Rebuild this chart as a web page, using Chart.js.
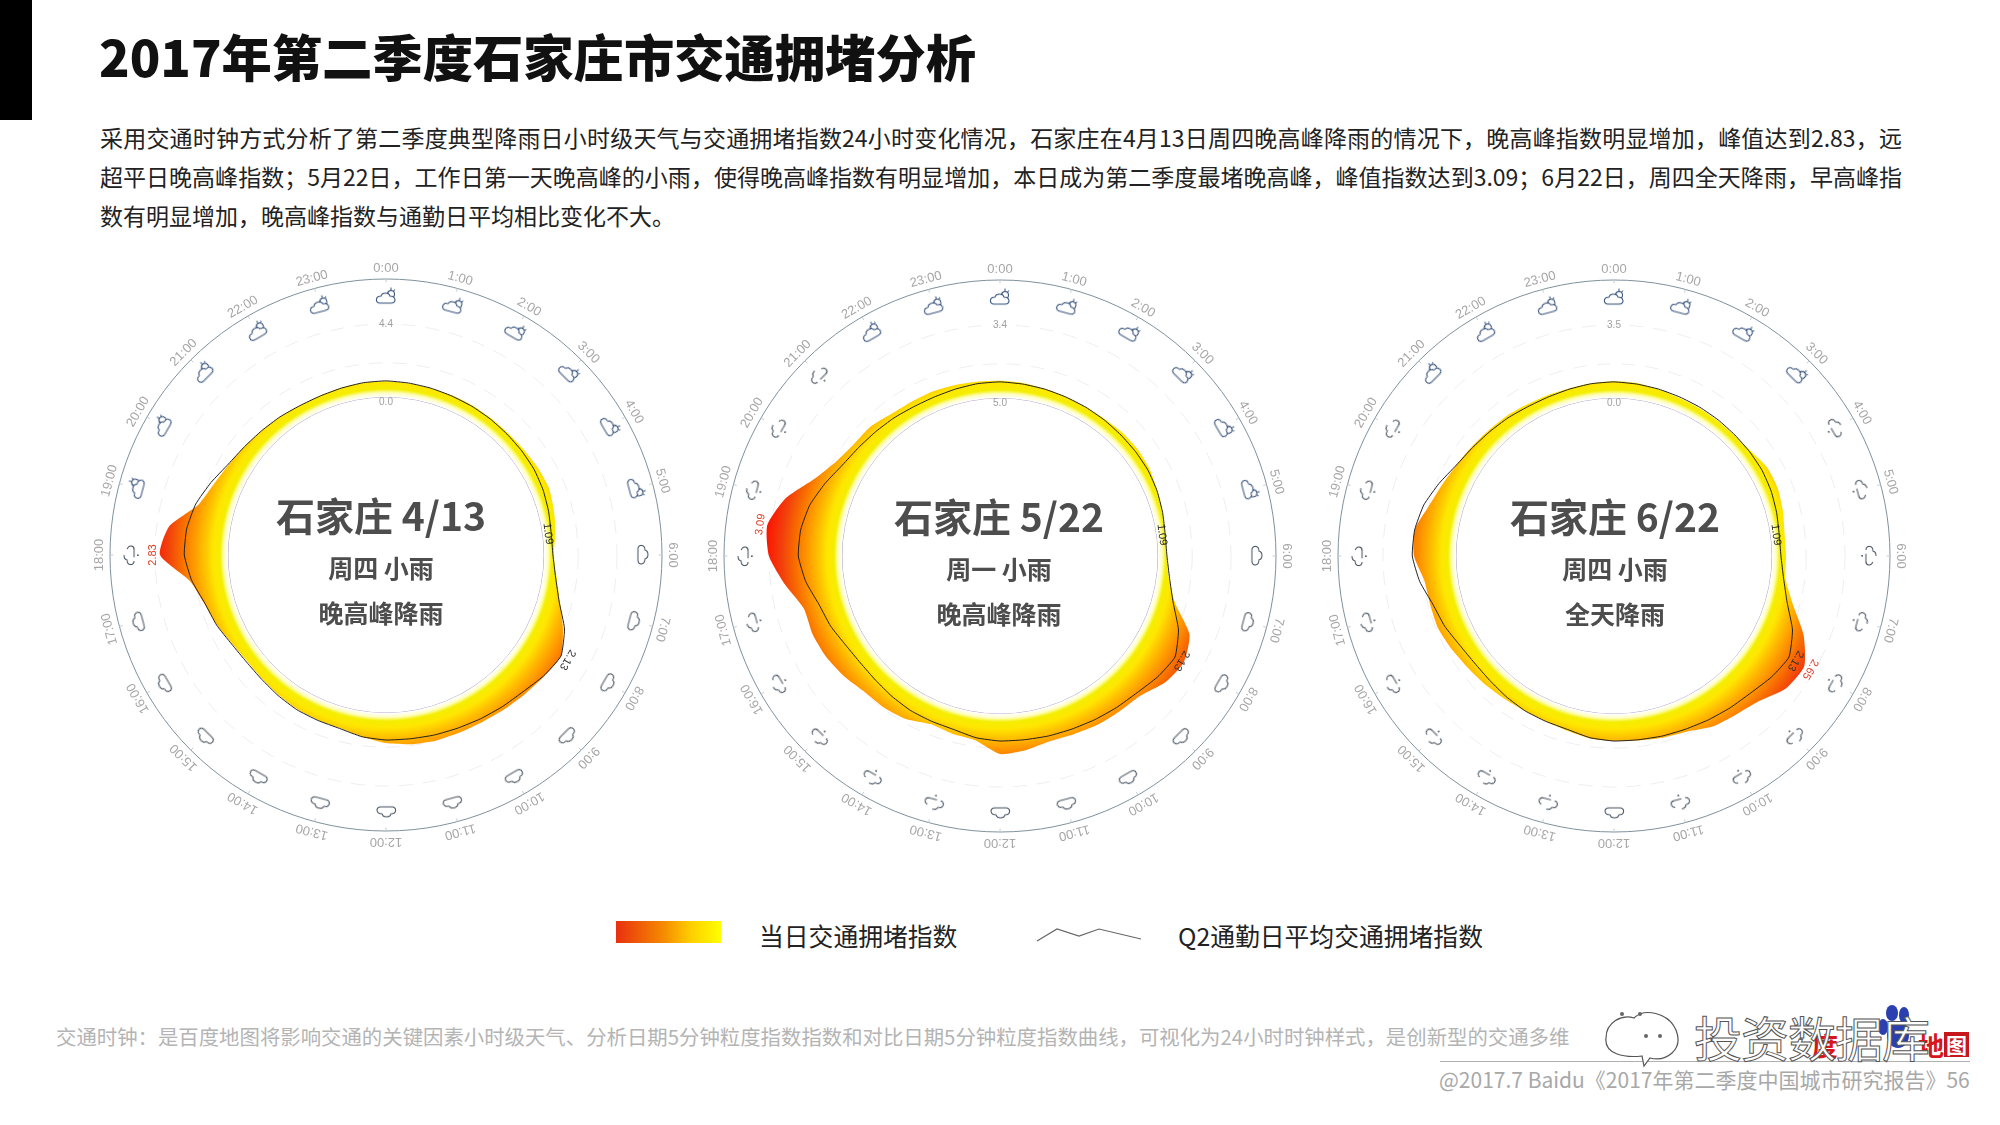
<!DOCTYPE html>
<html lang="zh">
<head>
<meta charset="utf-8">
<title>2017年第二季度石家庄市交通拥堵分析</title>
<script src="https://cdn.jsdelivr.net/npm/chart.js@4"></script>
<style>
    html, body { margin: 0; padding: 0; background: #fff; }
    body { position: relative; width: 2000px; height: 1125px; overflow: hidden; font-family: "Noto Sans CJK SC", "Noto Sans", sans-serif; color: #1a1a1a; }
    .abs { position: absolute; white-space: nowrap; }
    #bar { left: 0; top: 0; width: 32px; height: 120px; background: #000; }
    #title { left: 99px; top: 18px; font-size: 50.3px; line-height: 74px; font-weight: 900; color: #111; }
    .para { left: 100px; width: 1802px; font-size: 23px; line-height: 39px; color: #222; white-space: normal; text-align: justify; text-align-last: justify; }
    canvas { position: absolute; }
    .hub { position: absolute; width: 320px; text-align: center; color: #4d4d4d; font-weight: 700; }
    .hub div { position: absolute; left: 0; width: 100%; }
    .hub .name { top: -35px; font-size: 39px; line-height: 68px; }
    .hub .day { top: 32px; font-size: 25px; line-height: 40px; }
    .hub .rain { top: 77px; font-size: 25px; line-height: 40px; }
    #legendRamp { left: 616px; top: 921px; width: 105px; height: 22px; background: linear-gradient(to right, #e8300f, #f58a00 45%, #ffd000 72%, #ffff00); }
    .legendText { top: 917px; font-size: 24.8px; line-height: 36px; color: #222; }
    #note { left: 56px; top: 1022px; font-size: 20.4px; line-height: 28px; color: #b4b4b4; }
    #rule { left: 1440px; top: 1061px; width: 530px; height: 1px; background: #b0b0b0; }
    #copy { left: 1439px; top: 1064px; font-size: 21px; line-height: 30px; color: #a8a8a8; }
    #logoBox { left: 1944px; top: 1032px; width: 25px; height: 25px; background: #c8161d; color: #fff; font-size: 21px; line-height: 25px; text-align: center; font-weight: 700; }
    .logoRed { top: 1030px; font-size: 26px; line-height: 30px; font-weight: 700; color: #d8141c; }
    #stamp { left: 1694px; top: 1006px; font-size: 48px; line-height: 60px; color: #fff; -webkit-text-stroke: 1px #555; letter-spacing: -1px; }
</style>
</head>
<body>
<div class="abs" id="bar"></div>
<div class="abs" id="title">2017年第二季度石家庄市交通拥堵分析</div>
<div class="abs para" style="top:118px">采用交通时钟方式分析了第二季度典型降雨日小时级天气与交通拥堵指数24小时变化情况，石家庄在4月13日周四晚高峰降雨的情况下，晚高峰指数明显增加，峰值达到2.83，远</div>
<div class="abs para" style="top:157px">超平日晚高峰指数；5月22日，工作日第一天晚高峰的小雨，使得晚高峰指数有明显增加，本日成为第二季度最堵晚高峰，峰值指数达到3.09；6月22日，周四全天降雨，早高峰指</div>
<div class="abs para" style="top:196px;text-align-last:left">数有明显增加，晚高峰指数与通勤日平均相比变化不大。</div>

<canvas id="clock0" width="620" height="620" style="left:76px;top:245px"></canvas>
<canvas id="clock1" width="620" height="620" style="left:690px;top:246px"></canvas>
<canvas id="clock2" width="620" height="620" style="left:1304px;top:246px"></canvas>

<div class="hub" style="left:221px;top:515px"><div class="name">石家庄 4/13</div><div class="day">周四 小雨</div><div class="rain">晚高峰降雨</div></div>
<div class="hub" style="left:839px;top:516px"><div class="name">石家庄 5/22</div><div class="day">周一 小雨</div><div class="rain">晚高峰降雨</div></div>
<div class="hub" style="left:1455px;top:516px"><div class="name">石家庄 6/22</div><div class="day">周四 小雨</div><div class="rain">全天降雨</div></div>

<div class="abs" id="legendRamp"></div>
<div class="abs legendText" style="left:759px">当日交通拥堵指数</div>
<svg class="abs" style="left:1030px;top:920px" width="120" height="30"><polyline points="7,21 27,9 49,16 69,9 111,19" fill="none" stroke="#666" stroke-width="1.2"/></svg>
<div class="abs legendText" style="left:1178px">Q2通勤日平均交通拥堵指数</div>

<div class="abs" id="note">交通时钟：是百度地图将影响交通的关键因素小时级天气、分析日期5分钟粒度指数指数和对比日期5分钟粒度指数曲线，可视化为24小时时钟样式，是创新型的交通多维</div>
<div class="abs" id="rule"></div>
<div class="abs" id="copy">@2017.7 Baidu《2017年第二季度中国城市研究报告》56</div>
<div class="abs logoRed" style="left:1812px">度</div>
<div class="abs logoRed" style="left:1918px">地</div>
<div class="abs" id="logoBox">图</div>
<svg class="abs" style="left:1870px;top:1005px" width="50" height="50"><g fill="#2a3fb0"><ellipse cx="22" cy="8" rx="6" ry="8"/><ellipse cx="34" cy="10" rx="5" ry="8"/><ellipse cx="13" cy="22" rx="5" ry="8"/><ellipse cx="28" cy="30" rx="11" ry="13"/></g></svg>
<div class="abs" id="stamp">投资数据库</div>
<svg class="abs" style="left:1598px;top:1008px" width="96" height="62"><g fill="#fff" stroke="#555" stroke-width="1.2"><path d="M8,30 C8,14 24,6 36,10 C46,0 70,4 78,22 C86,42 68,54 52,50 L46,58 L44,48 C26,50 6,46 8,30 Z"/></g><g fill="#666"><circle cx="24" cy="6" r="2"/><circle cx="42" cy="6" r="2"/><circle cx="48" cy="28" r="2"/><circle cx="62" cy="28" r="2"/></g></svg>

<script>
    // =================================================================================
    // DADOS (um ponto a cada 30 min)
    // =================================================================================

    const hourLabels = ['0:00','1:00','2:00','3:00','4:00','5:00','6:00','7:00','8:00','9:00','10:00','11:00','12:00','13:00','14:00','15:00','16:00','17:00','18:00','19:00','20:00','21:00','22:00','23:00'];

    const avgIndex = [1.31,1.29,1.27,1.25,1.24,1.23,1.22,1.22,1.22,1.19,1.14,1.09,1.10,1.22,1.46,1.87,2.13,2.03,1.88,1.81,1.75,1.70,1.67,1.64,1.63,1.58,1.47,1.45,1.44,1.40,1.36,1.36,1.43,1.58,1.70,1.95,2.12,2.10,1.98,1.76,1.54,1.43,1.36,1.31,1.26,1.25,1.27,1.30];

    const dayIndex0413 = [1.30,1.28,1.27,1.27,1.27,1.26,1.26,1.29,1.34,1.37,1.30,1.22,1.12,1.25,1.48,1.82,2.13,2.05,1.97,1.91,1.86,1.84,1.84,1.80,1.72,1.58,1.46,1.44,1.42,1.38,1.34,1.33,1.41,1.57,1.72,2.01,2.83,2.62,1.90,1.66,1.52,1.43,1.36,1.31,1.27,1.26,1.28,1.30];
    const dayIndex0522 = [1.34,1.32,1.28,1.26,1.25,1.26,1.30,1.31,1.28,1.20,1.14,1.09,1.09,1.20,1.52,2.22,2.43,2.30,2.01,1.95,1.92,1.86,1.83,1.95,2.01,1.66,1.60,1.54,1.72,1.80,1.83,1.98,2.10,2.16,2.16,2.57,2.98,3.09,2.72,2.10,1.75,1.60,1.57,1.45,1.42,1.42,1.39,1.36];
    const dayIndex0622 = [1.33,1.32,1.26,1.22,1.21,1.20,1.20,1.26,1.39,1.40,1.33,1.25,1.25,1.28,1.63,2.22,2.65,2.57,2.22,2.07,1.98,1.78,1.72,1.66,1.63,1.60,1.51,1.45,1.45,1.48,1.54,1.60,1.69,1.78,1.78,1.81,2.07,2.10,1.83,1.66,1.54,1.47,1.41,1.38,1.33,1.31,1.29,1.31];

    // p = parcialmente nublado, c = nublado, r = chuva
    const weather0413 = ['p','p','p','p','p','p','c','c','c','c','c','c','c','c','c','c','c','c','r','p','p','p','p','p'];
    const weather0522 = ['p','p','p','p','p','p','c','c','c','c','c','c','c','r','r','r','r','r','r','r','r','r','p','p'];
    const weather0622 = ['p','p','p','p','r','r','r','r','r','r','r','r','c','r','r','r','r','r','r','r','r','p','p','p'];

    const axisTexts0413 = ['0.0','4.4'];
    const axisTexts0522 = ['5.0','3.4'];
    const axisTexts0622 = ['0.0','3.5'];

    // =================================================================================
    // ESCALA E ESTILO
    // =================================================================================

    const scaleMin = -3.8;
    const scaleMax = 4.3;
    const innerLevel = 0.84;
    const gridLevels = [scaleMin, innerLevel, 1.84, 2.98, scaleMax];
    const iconLevel = 3.74;

    const slotLabels = hourLabels.flatMap(h => [h, '']);

    function criarIcone(tipo) {
        const c = document.createElement('canvas');
        c.width = 26; c.height = 26;
        const g = c.getContext('2d');
        g.strokeStyle = tipo === 'p' ? '#34507a' : '#46525f';
        g.lineWidth = 1.05;
        g.fillStyle = '#fff';
        if (tipo === 'p') {
            // sol/lua atrás da nuvem
            g.beginPath(); g.arc(18, 9, 3.5, 0, Math.PI * 2); g.stroke();
            g.beginPath(); g.moveTo(18, 2.5); g.lineTo(18, 5); g.moveTo(22, 4.5); g.lineTo(20.5, 6); g.stroke();
        }
        g.beginPath();
        g.moveTo(7, 18);
        g.bezierCurveTo(2, 18, 2, 11, 8, 11);
        g.bezierCurveTo(9, 7, 16, 7, 17, 11);
        g.bezierCurveTo(23, 11, 24, 18, 18, 18);
        g.closePath();
        if (tipo !== 'r') g.fill();
        if (tipo === 'r') {
            g.setLineDash([18, 7]);
        }
        g.stroke();
        g.setLineDash([]);
        if (tipo === 'r') {
            g.fillStyle = '#46525f';
            g.fillRect(12, 21, 1.6, 1.6);
        }
        return c;
    }
    const icones = { p: criarIcone('p'), c: criarIcone('c'), r: criarIcone('r') };

    function gradienteAnel(context) {
        const s = context.chart.scales.r;
        if (!s || !s.drawingArea) return '#ffd000';
        const raio = v => s.getDistanceFromCenterForValue(v);
        const r0 = raio(innerLevel), r1 = raio(3.2);
        const g = context.chart.ctx.createRadialGradient(s.xCenter, s.yCenter, r0, s.xCenter, s.yCenter, r1);
        const faixa = r1 - r0;
        [[0, '#ffffff'], [4, '#ffffc0'], [8, '#f4ee00'], [15, '#ffe600'], [24, '#ffc000'], [34, '#ff9a00'], [46, '#f87000'], [60, '#f2400c'], [faixa, '#ff0800']]
            .forEach(([d, cor]) => g.addColorStop(Math.min(d / faixa, 1), cor));
        return g;
    }

    // textos desenhados em volta do relógio: horas, marcas e picos
    const textosRelogio = {
        id: 'textosRelogio',
        afterDatasetsDraw(chart, args, opts) {
            const ctx = chart.ctx;
            const s = chart.scales.r;
            const escrever = (slot, valor, texto, cor, tamanho) => {
                const p = s.getPointPositionForValue(slot, valor);
                ctx.save();
                ctx.translate(p.x, p.y);
                ctx.rotate(s.getIndexAngle(slot));
                ctx.font = tamanho + 'px "Liberation Sans", "Noto Sans", sans-serif';
                ctx.fillStyle = cor;
                ctx.textAlign = 'center';
                ctx.textBaseline = 'middle';
                ctx.fillText(texto, 0, 0);
                ctx.restore();
            };

            hourLabels.forEach((h, i) => {
                const slot = i * 2;
                escrever(slot, scaleMax + 0.3, h, '#a6a6a6', 13);
                const a = s.getPointPositionForValue(slot, scaleMax);
                const b = s.getPointPositionForValue(slot, scaleMax - 0.1);
                ctx.save();
                ctx.strokeStyle = '#c4ccd2';
                ctx.lineWidth = 1;
                ctx.beginPath(); ctx.moveTo(a.x, a.y); ctx.lineTo(b.x, b.y); ctx.stroke();
                ctx.restore();
            });

            escrever(0, innerLevel - 0.16, opts.axisTexts[0], '#a0a0a0', 10);
            escrever(0, 2.98, opts.axisTexts[1], '#a0a0a0', 10);

            const dia = opts.day;
            const topoDia = dia.indexOf(Math.max(...dia));
            escrever(topoDia, dia[topoDia] + 0.2, dia[topoDia].toFixed(2), '#e0402c', 11);
            const minMedia = avgIndex.indexOf(Math.min(...avgIndex));
            escrever(minMedia, avgIndex[minMedia] - 0.1, avgIndex[minMedia].toFixed(2), '#222', 11);
            const maxMedia = avgIndex.indexOf(Math.max(...avgIndex));
            escrever(maxMedia, avgIndex[maxMedia] + 0.22, avgIndex[maxMedia].toFixed(2), '#333', 11);
        }
    };

    function criarRelogio(idCanvas, dia, clima, axisTexts) {
        return new Chart(document.getElementById(idCanvas), {
            type: 'radar',
            plugins: [textosRelogio],
            data: {
                labels: slotLabels,
                datasets: [
                    {
                        label: 'Q2通勤日平均交通拥堵指数',
                        data: avgIndex,
                        borderColor: '#222222',
                        borderWidth: 1,
                        pointRadius: 0,
                        fill: false,
                        tension: 0.15,
                        order: 1
                    },
                    {
                        label: '当日交通拥堵指数',
                        data: dia,
                        backgroundColor: gradienteAnel,
                        borderColor: 'rgba(0,0,0,0)',
                        borderWidth: 0,
                        pointRadius: 0,
                        fill: { value: innerLevel },
                        tension: 0.2,
                        order: 2
                    },
                    {
                        label: '天气',
                        data: slotLabels.map((l, i) => (i % 2 === 0 ? iconLevel : null)),
                        showLine: false,
                        fill: false,
                        pointRadius: 11,
                        pointStyle: ctx => icones[clima[ctx.dataIndex / 2]] || false,
                        pointRotation: ctx => ctx.dataIndex * 7.5,
                        order: 0
                    }
                ]
            },
            options: {
                responsive: false,
                animation: false,
                events: [],
                layout: { padding: 34 },
                plugins: {
                    legend: { display: false },
                    tooltip: { enabled: false },
                    textosRelogio: { day: dia, axisTexts: axisTexts }
                },
                scales: {
                    r: {
                        min: scaleMin,
                        max: scaleMax,
                        afterBuildTicks: scale => { scale.ticks = gridLevels.map(v => ({ value: v })); },
                        ticks: { display: false },
                        pointLabels: { display: false },
                        angleLines: { display: false },
                        grid: {
                            circular: true,
                            lineWidth: 1,
                            color: ctx => {
                                const v = ctx.tick.value;
                                if (v === scaleMax) return '#7f919c';
                                if (v === innerLevel) return '#a99cc9';
                                return '#eceef0';
                            }
                        },
                        border: {
                            dash: ctx => (ctx.tick.value === scaleMax || ctx.tick.value === innerLevel ? [] : [14, 10])
                        }
                    }
                }
            }
        });
    }

    criarRelogio('clock0', dayIndex0413, weather0413, axisTexts0413);
    criarRelogio('clock1', dayIndex0522, weather0522, axisTexts0522);
    criarRelogio('clock2', dayIndex0622, weather0622, axisTexts0622);
</script>
</body>
</html>
